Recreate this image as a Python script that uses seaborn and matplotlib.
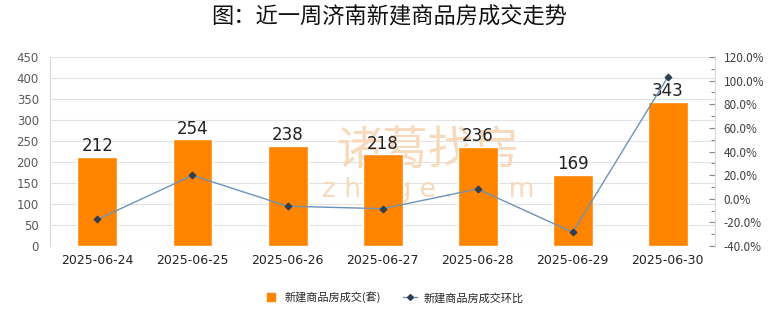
import matplotlib
matplotlib.use("Agg")
import matplotlib.pyplot as plt
from matplotlib.ticker import MultipleLocator, FuncFormatter
from matplotlib.lines import Line2D
import seaborn as sns
import pandas as pd
import numpy as np

dates = ["2025-06-24", "2025-06-25", "2025-06-26", "2025-06-27",
         "2025-06-28", "2025-06-29", "2025-06-30"]
deals = [212, 254, 238, 218, 236, 169, 343]
mom_pct = [-17.5, 19.8, -6.3, -8.4, 8.3, -28.4, 103.0]

sns.set_theme(style="white")
plt.rcParams["font.family"] = ["Noto Sans CJK SC", "DejaVu Sans"]

df = pd.DataFrame({"date": dates, "deals": deals, "pct": mom_pct,
                   "pos": np.arange(len(dates))})

fig = plt.figure(figsize=(7.8, 3.28), dpi=100)
ax = fig.add_axes([0.064, 0.25, 0.853, 0.576])

bar_color = "#FF8400"
sns.barplot(data=df, x="date", y="deals", color=bar_color, width=0.42,
            saturation=1, ax=ax, zorder=3)
for i, v in enumerate(deals):
    ax.text(i, v + 4, str(v), ha="center", va="bottom", fontsize=12,
            color="#222222", family="DejaVu Sans", zorder=5)

ax.set_ylim(0, 450)
ax.set_xlim(-0.5, 6.5)
ax.yaxis.set_major_locator(MultipleLocator(50))
ax.grid(axis="y", color="#E3E3E3", linewidth=0.8, zorder=0)
ax.set_axisbelow(True)
ax.set_xlabel("")
ax.set_ylabel("")
for s in ["top", "right", "bottom"]:
    ax.spines[s].set_visible(False)
ax.spines["left"].set_color("#D9D9D9")
ax.spines["left"].set_linewidth(0.8)
ax.tick_params(axis="y", labelsize=8.5, labelcolor="#595959", length=0, pad=8)
ax.tick_params(axis="x", labelsize=9, labelcolor="#222222", length=0, pad=6)
for lbl in ax.get_xticklabels():
    lbl.set_family("DejaVu Sans")
for lbl in ax.get_yticklabels():
    lbl.set_family("DejaVu Sans")

# faint watermark behind the bars
ax.text(3.48, 228, "诸葛找房", ha="center", va="center", fontsize=33,
        color="#F7D9BC", zorder=1)
ax.text(3.48, 133, "z h u g e . c o m", ha="center", va="center", fontsize=19,
        color="#F7D9BC", zorder=1, family="DejaVu Sans")

ax2 = ax.twinx()
sns.lineplot(data=df, x="pos", y="pct", ax=ax2, color="#6C93B8", linewidth=1.0,
             marker="D", markersize=3.5, markerfacecolor="#2D3E55",
             markeredgecolor="#2D3E55", zorder=4)
ax2.set_ylim(-40, 120)
ax2.set_xlim(-0.5, 6.5)
ax2.yaxis.set_major_locator(MultipleLocator(20))
ax2.yaxis.set_minor_locator(MultipleLocator(10))
ax2.yaxis.set_major_formatter(FuncFormatter(lambda v, p: f"{v:.1f}%"))
ax2.set_ylabel("")
ax2.set_xlabel("")
for s in ["top", "left", "bottom"]:
    ax2.spines[s].set_visible(False)
ax2.spines["right"].set_color("#D9D9D9")
ax2.spines["right"].set_linewidth(0.8)
ax2.tick_params(axis="y", which="major", direction="in", length=4, width=0.8,
                color="#888888", labelsize=8.5, labelcolor="#404040", pad=6)
ax2.tick_params(axis="y", which="minor", direction="in", length=3, width=0.8,
                color="#888888")

fig.text(0.499, 0.948, "图：近一周济南新建商品房成交走势", ha="center", va="center",
         fontsize=16, color="#111111")

handles = [
    Line2D([0], [0], marker="s", linestyle="none", markersize=6,
           markerfacecolor=bar_color, markeredgecolor=bar_color),
    Line2D([0], [0], color="#6C93B8", linewidth=1.0, marker="D", markersize=3,
           markerfacecolor="#2D3E55", markeredgecolor="#2D3E55"),
]
fig.legend(handles, ["新建商品房成交(套)", "新建商品房成交环比"], loc="center",
           bbox_to_anchor=(0.505, 0.093), ncol=2, frameon=False, fontsize=8,
           handlelength=1.2, columnspacing=2.0, handletextpad=0.6)

fig.savefig("out.png", dpi=100)
